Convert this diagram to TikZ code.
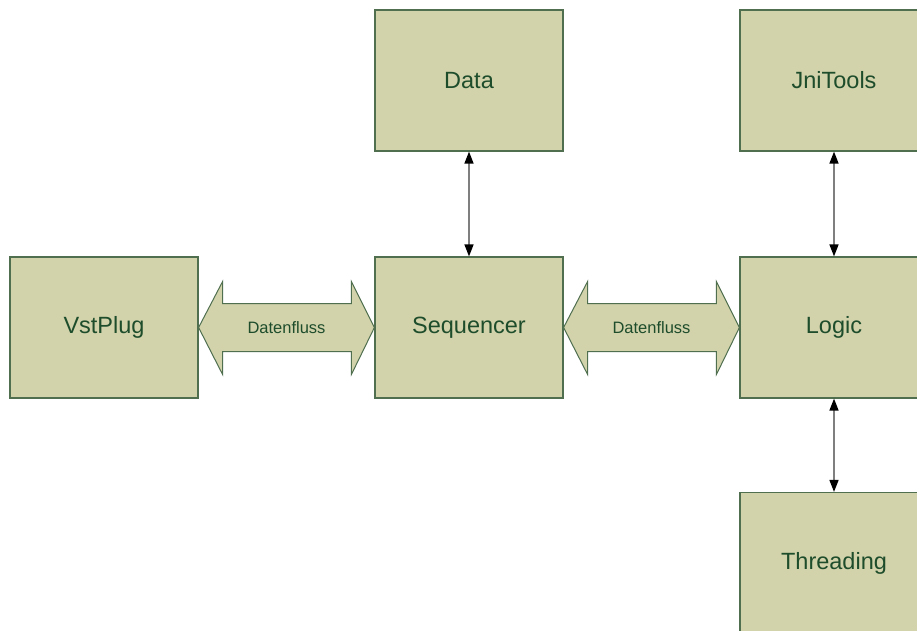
\documentclass[tikz,border=0pt]{standalone}
\usepackage{fontspec}
\setmainfont{Liberation Sans}
\usetikzlibrary{calc,arrows.meta}
\definecolor{boxfill}{HTML}{D2D2AB}
\definecolor{boxline}{HTML}{4F6F4F}
\definecolor{boxtext}{HTML}{1E4D2B}
\definecolor{linkgray}{HTML}{7F7F7F}
\tikzset{
  block/.style={draw=boxline, fill=boxfill, line width=1.2pt, minimum width=188pt, minimum height=141pt,
    inner sep=0pt, text=boxtext, font=\fontsize{23.5}{28}\selectfont},
  fatarrow/.style={draw=boxline, fill=boxfill, line width=1pt, line join=miter},
  flowlabel/.style={text=boxtext, font=\fontsize{16.5}{20}\selectfont, inner sep=0pt},
  link/.style={draw=linkgray, line width=1.5pt, {Triangle[length=12pt,width=9pt,fill=black,color=black]}-{Triangle[length=12pt,width=9pt,fill=black,color=black]}}
}
\begin{document}
\begin{tikzpicture}[x=1pt,y=-1pt]
\useasboundingbox (0,0) rectangle (917,630);
\clip (0,0) rectangle (917,630);
\node[block] (data) at (469,80.5) {Data};
\node[block] (jni) at (834,80.5) {JniTools};
\node[block] (vst) at (104,327.5) {VstPlug};
\node[block] (seq) at (469,327.5) {Sequencer};
\node[block] (logic) at (834,327.5) {Logic};
\node[block] (thr) at (834,563) {Threading};
% fat double arrows
\draw[fatarrow] (vst.east) -- ($(vst.east)+(24,-46)$) -- ($(vst.east)+(24,-24)$) -- ($(seq.west)+(-23,-24)$)
  -- ($(seq.west)+(-23,-46)$) -- (seq.west) -- ($(seq.west)+(-23,47)$) -- ($(seq.west)+(-23,24)$)
  -- ($(vst.east)+(24,24)$) -- ($(vst.east)+(24,47)$) -- cycle;
\node[flowlabel] (f1) at ($(vst.east)!0.5!(seq.west)$) {Datenfluss};
\draw[fatarrow] (seq.east) -- ($(seq.east)+(24,-46)$) -- ($(seq.east)+(24,-24)$) -- ($(logic.west)+(-23,-24)$)
  -- ($(logic.west)+(-23,-46)$) -- (logic.west) -- ($(logic.west)+(-23,47)$) -- ($(logic.west)+(-23,24)$)
  -- ($(seq.east)+(24,24)$) -- ($(seq.east)+(24,47)$) -- cycle;
\node[flowlabel] (f2) at ($(seq.east)!0.5!(logic.west)$) {Datenfluss};
% thin links
\draw[link] (data.south) -- (seq.north);
\draw[link] (jni.south) -- (logic.north);
\draw[link] (logic.south) -- (thr.north);
\end{tikzpicture}
\end{document}
